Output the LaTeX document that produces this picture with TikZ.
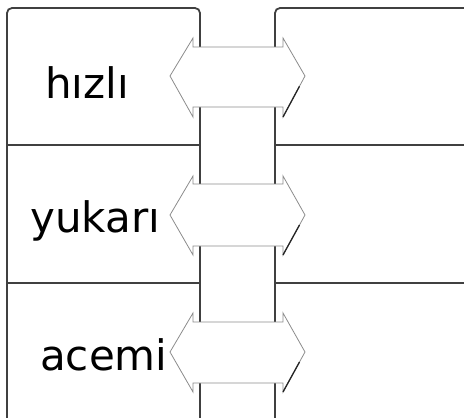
\documentclass[tikz,border=0pt]{standalone}
\usepackage{fontspec}
\setmainfont{DejaVu Sans}
\usetikzlibrary{calc}
\begin{document}
\begin{tikzpicture}[x=1pt,y=-1pt,
  frame/.style={draw=black!75, line width=1.8pt},
  arrowbody/.style={fill=white, draw=black!45, line width=0.8pt, line join=miter},
  arrowshade/.style={draw=black!85, line width=1.3pt},
  word/.style={anchor=base west, inner sep=0pt, font=\fontsize{42}{46}\selectfont}]
\useasboundingbox (0,0) rectangle (464,418);
% frames
\draw[frame, rounded corners=5pt] (7,430) -- (7,8) -- (200,8) -- (200,430);
\draw[frame, rounded corners=5pt] (470,8) -- (275,8) -- (275,430);
\foreach \yy in {145,283} {
  \draw[frame] (7,\yy) -- (200,\yy);
  \draw[frame] (275,\yy) -- (470,\yy);
}
% arrows
\foreach \t/\ht/\st/\sb/\hb [count=\i] in {76/38/47/107/117, 215/176/184/246/255, 352/313/322/383/392} {
  \coordinate (L\i) at (170,\t);
  \coordinate (R\i) at (305,\t);
  \coordinate (B\i) at (283,\hb);
  \draw[arrowbody] (L\i) -- (193,\ht) -- (193,\st) -- (283,\st) -- (283,\ht) -- (R\i)
     -- (B\i) -- (283,\sb) -- (193,\sb) -- (193,\hb) -- cycle;
  \draw[arrowshade] ($(R\i)!0.25!(B\i)$) -- (B\i);
}
% words
\node[word] (w1) at (45,98) {hızlı};
\node[word] (w2) at (30,232) {yukarı};
\node[word] (w3) at (40,370) {acemi};
\end{tikzpicture}
\end{document}
